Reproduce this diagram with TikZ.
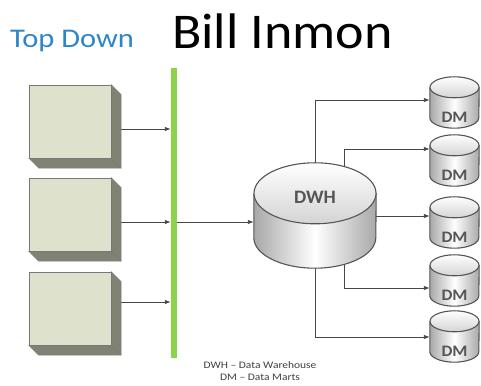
\documentclass[tikz,border=0pt]{standalone}
\usepackage{fontspec}
\setmainfont{Carlito}
\usetikzlibrary{arrows.meta}
\definecolor{boxfront}{RGB}{222,225,203}
\definecolor{boxside}{RGB}{128,131,115}
\definecolor{boxline}{RGB}{120,120,120}
\definecolor{barg}{RGB}{140,210,75}
\definecolor{arrc}{RGB}{70,70,70}
\definecolor{cylL}{RGB}{168,168,168}
\definecolor{cylT}{RGB}{212,212,212}
\definecolor{cylc}{RGB}{85,85,85}
\definecolor{titleblue}{RGB}{46,134,200}
\definecolor{dmtext}{RGB}{85,85,85}
\newcommand\srcboxart[1]{%
  \filldraw[boxside, draw=boxline, line width=0.5pt]
    ([xshift=-10pt]#1.north east) -- ([yshift=-10pt]#1.north east) -- (#1.south east)
    -- ([xshift=10pt]#1.south west) -- ([yshift=10pt]#1.south west) -- cycle;
  \filldraw[fill=boxfront, draw=boxline, line width=0.5pt]
    (#1.north west) rectangle ([xshift=-10pt,yshift=10pt]#1.south east);
  \draw[boxline, line width=0.5pt] ([xshift=-10pt,yshift=10pt]#1.south east) -- (#1.south east);
}
\newcommand\cylart[3]{%
  \shade[left color=cylL, right color=cylL, middle color=white]
    ([yshift=-#3pt]#1.north west) -- ([yshift=#3pt]#1.south west)
    arc[start angle=180, end angle=360, x radius=#2pt, y radius=#3pt]
    -- ([yshift=-#3pt]#1.north east) -- cycle;
  \draw[cylc, line width=1.1pt]
    ([yshift=-#3pt]#1.north west) -- ([yshift=#3pt]#1.south west)
    arc[start angle=180, end angle=360, x radius=#2pt, y radius=#3pt]
    -- ([yshift=-#3pt]#1.north east);
  \shadedraw[top color=white, bottom color=cylT, draw=cylc, line width=1.1pt]
    ([yshift=-#3pt]#1.north) ellipse[x radius=#2pt, y radius=#3pt];
}
\begin{document}
\begin{tikzpicture}[x=1pt, y=1pt,
  srcbox/.style={minimum width=92pt, minimum height=83pt, inner sep=0pt, draw=none},
  dwhbox/.style={minimum width=122pt, minimum height=105pt, inner sep=0pt, draw=none},
  dmbox/.style={minimum width=49pt, minimum height=51pt, inner sep=0pt, draw=none},
  busbar/.style={minimum width=6pt, minimum height=290pt, inner sep=0pt, fill=barg, draw=none},
  arr/.style={arrc, line width=0.9pt, -{Latex[length=6pt, width=4.5pt]}},
  dwhlabel/.style={text=dmtext, font=\bfseries\fontsize{19}{22}\selectfont, inner sep=0pt},
  dmlabel/.style={text=dmtext, font=\bfseries\fontsize{16}{18}\selectfont, inner sep=0pt},
  titletext/.style={inner sep=0pt, anchor=base west}
]
\useasboundingbox (0,0) rectangle (481,385);
\fill[white] (0,0) rectangle (481,385);

% titles
\node[titletext, text=titleblue, font=\fontsize{27}{30}\selectfont] (ttop) at (10,337) {\scalebox{1.13}[1]{Top Down}};
\node[titletext, text=black, font=\fontsize{50}{56}\selectfont] (tbill) at (172,336) {\scalebox{1.08}[1]{Bill Inmon}};

% named nodes
\node[srcbox] (s1) at (75,258.5) {};
\node[srcbox] (s2) at (75,165.5) {};
\node[srcbox] (s3) at (75,71.5) {};
\node[busbar] (bar) at (174,172) {};
\node[dwhbox] (dwh) at (315,169.5) {};
\node[dmbox] (dm1) at (454.5,282.5) {};
\node[dmbox] (dm2) at (454.5,224.5) {};
\node[dmbox] (dm3) at (454.5,162.5) {};
\node[dmbox] (dm4) at (454.5,104.5) {};
\node[dmbox] (dm5) at (454.5,48.5) {};

% connectors
\coordinate (a1) at ([yshift=-2.5pt]s1.east);
\coordinate (a2) at ([yshift=-2.5pt]s2.east);
\coordinate (a3) at ([yshift=11.5pt]s3.east);
\draw[arr] (a1) -- (a1 -| bar.west);
\draw[arr] (a2) -- (a2 -| bar.west);
\draw[arr] (a3) -- (a3 -| bar.west);
\draw[arr] (a2 -| bar.east) -- (a2 -| dwh.west);

\coordinate (c1) at ([yshift=2.5pt]dm1.west);
\coordinate (c2) at ([yshift=11.5pt]dm2.west);
\coordinate (c3) at ([yshift=6.5pt]dm3.west);
\coordinate (c4) at ([yshift=-7.5pt]dm4.west);
\coordinate (c5) at ([yshift=-0.5pt]dm5.west);
\draw[arr] (dwh.center) |- (c1);
\draw[arr] ([xshift=29pt]dwh.center) |- (c2);
\draw[arr] (dwh.center |- c3) -- (c3);
\draw[arr] ([xshift=29pt]dwh.center) |- (c4);
\draw[arr] (dwh.center) |- (c5);

% shapes
\srcboxart{s1}
\srcboxart{s2}
\srcboxart{s3}
\cylart{dwh}{61}{30.5}
\cylart{dm1}{24.5}{10.5}
\cylart{dm2}{24.5}{10.5}
\cylart{dm3}{24.5}{10.5}
\cylart{dm4}{24.5}{10.5}
\cylart{dm5}{24.5}{10.5}

% labels
\node[dwhlabel] (ldwh) at ([yshift=-35pt]dwh.north) {\scalebox{1.02}[1]{DWH}};
\node[dmlabel] (l1) at ([yshift=10.5pt]dm1.south) {\scalebox{1.08}[1]{DM}};
\node[dmlabel] (l2) at ([yshift=10.5pt]dm2.south) {\scalebox{1.08}[1]{DM}};
\node[dmlabel] (l3) at ([yshift=10.5pt]dm3.south) {\scalebox{1.08}[1]{DM}};
\node[dmlabel] (l4) at ([yshift=10.5pt]dm4.south) {\scalebox{1.08}[1]{DM}};
\node[dmlabel] (l5) at ([yshift=10.5pt]dm5.south) {\scalebox{1.08}[1]{DM}};

% legend
\node[align=center, text=black!75, font=\fontsize{10}{12}\selectfont, inner sep=0pt] (legend) at (260,13.5)
  {\scalebox{1.15}[1]{DWH – Data Warehouse}\\\scalebox{1.15}[1]{DM – Data Marts}};
\end{tikzpicture}
\end{document}
